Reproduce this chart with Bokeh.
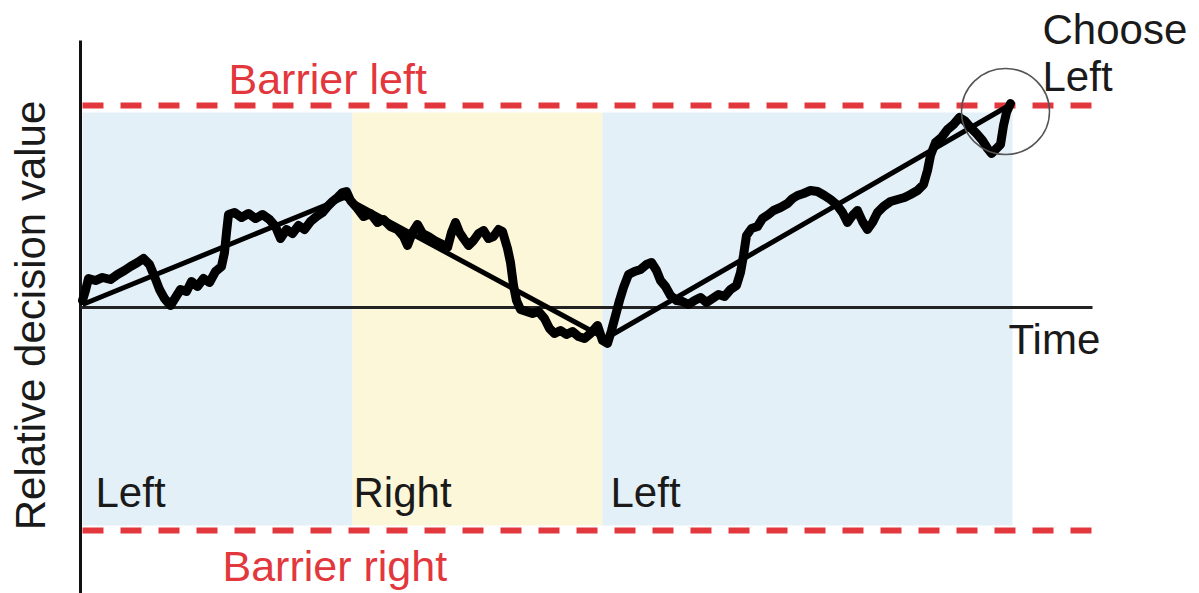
import math
from bokeh.plotting import figure
from bokeh.models import Range1d
from bokeh.core.properties import value
from bokeh.embed import file_html
from bokeh.resources import INLINE

# ---- data (time in ms, relative decision value in evidence units) ----
barrier_left = 202
barrier_right = -223
shade_top = 195
shade_bottom = -218

phase_start = [0, 270, 520]
phase_end = [270, 520, 930]
phase_label = ["Left", "Right", "Left"]
phase_label_t = [13, 271, 528]
phase_color = ["#e3f0f7", "#fcf7d8", "#e3f0f7"]

# drift (straight segments)
drift_t = [0, 262, 523, 930]
drift_v = [3, 110, -31, 204]

# noisy accumulated evidence trace
trace_t = [0, 3, 6, 13, 20, 28, 35, 42, 48, 55, 61, 67, 72, 77, 82, 88, 93, 98, 104, 109,
           115, 121, 127, 133, 139, 142, 144, 146, 152, 159, 166, 173, 180, 187, 193, 198,
           204, 210, 216, 222, 228, 234, 240, 245, 250, 255, 260, 264, 268, 275, 281, 288,
           295, 301, 308, 315, 321, 325, 330, 335, 340, 346, 352, 358, 365, 369, 373, 377,
           381, 386, 391, 396, 401, 406, 411, 416, 420, 425, 428, 431, 434, 438, 444, 450,
           456, 462, 467, 472, 478, 484, 490, 496, 502, 508, 515, 520, 525, 529, 533, 537,
           541, 546, 552, 558, 564, 569, 574, 578, 583, 588, 594, 600, 606, 612, 618, 624,
           630, 636, 642, 648, 654, 658, 661, 664, 669, 675, 680, 686, 691, 698, 705, 710,
           715, 721, 728, 735, 742, 748, 754, 760, 765, 770, 775, 780, 785, 790, 795, 801,
           808, 815, 822, 828, 835, 841, 845, 848, 853, 859, 865, 871, 877, 882, 888, 894,
           900, 905, 909, 914, 918, 921, 924, 928]
trace_v = [7, 17, 29, 27, 30, 28, 33, 37, 41, 45, 49, 43, 31, 18, 9, 2, 10, 18, 16, 26,
           21, 29, 25, 36, 41, 55, 75, 93, 95, 90, 94, 89, 93, 88, 81, 69,
           78, 74, 82, 78, 86, 91, 95, 101, 106, 110, 115, 116, 107, 99, 91, 94,
           85, 88, 81, 78, 71, 62, 75, 83, 74, 71, 67, 64, 60, 75, 85, 75,
           69, 62, 67, 74, 77, 69, 71, 78, 76, 59, 45, 22, 7, -2, -4, -6,
           -4, -11, -21, -26, -23, -27, -24, -29, -31, -26, -18, -33, -36, -23, -8, 7,
           20, 33, 36, 38, 43, 45, 37, 27, 21, 12, 7, 6, 3, 7, 10, 5,
           9, 13, 11, 18, 22, 35, 52, 72, 79, 81, 89, 93, 97, 100, 104, 109,
           112, 114, 117, 116, 112, 108, 103, 95, 85, 92, 97, 86, 78, 85, 95, 101,
           106, 108, 110, 113, 117, 123, 137, 152, 165, 170, 178, 183, 190, 187, 180, 174,
           167, 159, 154, 159, 163, 182, 195, 204]

choice_t = 924
choice_v = 196

FONT = value("Liberation Sans")
RED = "#e2383d"
INK = "#1a1a1a"

p = figure(width=1199, height=593, x_range=Range1d(-82, 1117), y_range=Range1d(-286, 307),
           x_axis_type=None, y_axis_type=None, output_backend="svg", toolbar_location=None,
           min_border=0, outline_line_color=None, background_fill_color="white")
p.grid.visible = False

# phase shading
p.quad(left=phase_start, right=phase_end, top=shade_top, bottom=shade_bottom,
       fill_color=phase_color, line_color=None)

# axes lines
p.segment(x0=[-2], y0=[267], x1=[-2], y1=[-290], line_color="#111111", line_width=3)
p.segment(x0=[-2], y0=[0], x1=[1010], y1=[0], line_color="#222222", line_width=3)

# barriers
p.segment(x0=[0, 0], y0=[barrier_left, barrier_right], x1=[1021, 1021],
          y1=[barrier_left, barrier_right], line_color=RED, line_width=6, line_dash="21 17")

# drift & trace
p.line(drift_t, drift_v, line_color="black", line_width=5)
p.line(trace_t, trace_v, line_color="black", line_width=9, line_join="round", line_cap="round")

# choice circle
p.ellipse(x=[choice_t - 1], y=[choice_v], width=[88], height=[86], fill_color=None,
          line_color="#555555", line_width=1.5)

# texts
p.text(x=[146], y=[229], text=["Barrier left"], text_color=RED, text_font=FONT,
       text_font_size="43px", text_baseline="alphabetic")
p.text(x=[140], y=[-258], text=["Barrier right"], text_color=RED, text_font=FONT,
       text_font_size="43px", text_baseline="alphabetic")
p.text(x=phase_label_t, y=[-185] * 3, text=phase_label, text_color=INK,
       text_font=FONT, text_font_size="42px", text_baseline="alphabetic")
p.text(x=[926], y=[-32], text=["Time"], text_color=INK, text_font=FONT,
       text_font_size="42px", text_baseline="alphabetic")
p.text(x=[960, 960], y=[278, 231], text=["Choose", "Left"], text_color=INK,
       text_font=FONT, text_font_size="42px", text_baseline="alphabetic")
p.text(x=[-52], y=[-8], text=["Relative decision value"], angle=math.pi / 2,
       text_color=INK, text_font=FONT, text_font_size="42px",
       text_align="center", text_baseline="alphabetic")

open("out.html", "w").write(file_html(p, INLINE))
